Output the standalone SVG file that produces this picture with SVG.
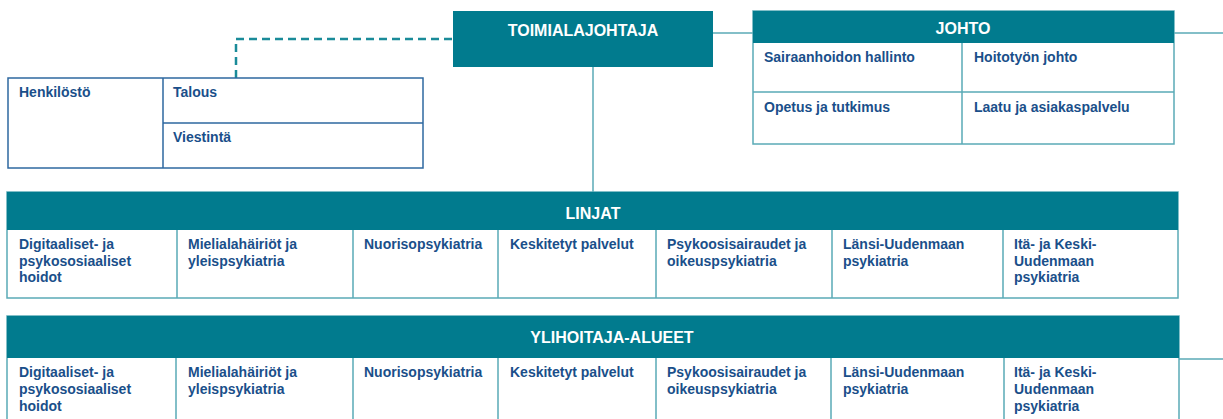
<svg xmlns="http://www.w3.org/2000/svg" width="1223" height="419" viewBox="0 0 1223 419">
<style>
.t{font-family:"Liberation Sans",Arial,sans-serif;font-weight:bold;font-size:14px;fill:#1a4f8a}
.h{font-family:"Liberation Sans",Arial,sans-serif;font-weight:bold;font-size:16px;fill:#ffffff;text-anchor:middle}
.hdr{fill:#017b8e}
.box{fill:#ffffff;stroke:#5aaab6;stroke-width:1.5}
.div{stroke:#5aaab6;stroke-width:1.5;fill:none}
.dbox{fill:#ffffff;stroke:#2e68a0;stroke-width:1.5}
.ddiv{stroke:#2e68a0;stroke-width:1.5;fill:none}
.con{stroke:#5aaab6;stroke-width:1.5;fill:none}
.dash{stroke:#1a8b99;stroke-width:2.5;fill:none;stroke-dasharray:8 5}
</style>
<g id="connectors">
<path class="dash" d="M236 78 V39 H453"/>
<path class="con" d="M713 33 H753"/>
<path class="con" d="M1174 33 H1223"/>
<path class="con" d="M593 67 V192"/>
<path class="con" d="M1179 359 H1223"/>
</g>
<g id="tuki">
<rect class="dbox" x="8" y="78" width="415" height="90"/>
<path class="ddiv" d="M163 78 V168 M163 123 H423"/>
<text class="t" x="19" y="97">Henkilöstö</text>
<text class="t" x="173" y="97">Talous</text>
<text class="t" x="173" y="142">Viestintä</text>
</g>
<g id="toimialajohtaja">
<rect class="hdr" x="453" y="11" width="260" height="56"/>
<text class="h" x="583" y="36">TOIMIALAJOHTAJA</text>
</g>
<g id="johto">
<rect class="box" x="753" y="11" width="421" height="133"/>
<rect class="hdr" x="753" y="11" width="421" height="32"/>
<path class="div" d="M962 43 V144 M753 92 H1174"/>
<text class="h" x="963" y="34">JOHTO</text>
<text class="t" x="764" y="62">Sairaanhoidon hallinto</text>
<text class="t" x="974" y="62">Hoitotyön johto</text>
<text class="t" x="764" y="112">Opetus ja tutkimus</text>
<text class="t" x="974" y="112">Laatu ja asiakaspalvelu</text>
</g>
<g id="linjat">
<rect class="box" x="7" y="192" width="1171" height="106"/>
<rect class="hdr" x="7" y="192" width="1171" height="38"/>
<path class="div" d="M177 230 V298 M353 230 V298 M498 230 V298 M656 230 V298 M832 230 V298 M1003 230 V298"/>
<text class="h" x="593" y="219">LINJAT</text>
<text class="t" x="19" y="249">Digitaaliset- ja</text>
<text class="t" x="19" y="265.5">psykososiaaliset</text>
<text class="t" x="19" y="282">hoidot</text>
<text class="t" x="188" y="249">Mielialahäiriöt ja</text>
<text class="t" x="188" y="265.5">yleispsykiatria</text>
<text class="t" x="364" y="249">Nuorisopsykiatria</text>
<text class="t" x="510" y="249">Keskitetyt palvelut</text>
<text class="t" x="667" y="249">Psykoosisairaudet ja</text>
<text class="t" x="667" y="265.5">oikeuspsykiatria</text>
<text class="t" x="843" y="249">Länsi-Uudenmaan</text>
<text class="t" x="843" y="265.5">psykiatria</text>
<text class="t" x="1014" y="249">Itä- ja Keski-</text>
<text class="t" x="1014" y="265.5">Uudenmaan</text>
<text class="t" x="1014" y="282">psykiatria</text>
</g>
<g id="ylihoitaja-alueet">
<rect class="box" x="7" y="316" width="1172" height="120"/>
<rect class="hdr" x="7" y="316" width="1172" height="42"/>
<path class="div" d="M176 358 V419 M353 358 V419 M498 358 V419 M656 358 V419 M831 358 V419 M1004 358 V419"/>
<text class="h" x="612" y="343">YLIHOITAJA-ALUEET</text>
<text class="t" x="19" y="377">Digitaaliset- ja</text>
<text class="t" x="19" y="394">psykososiaaliset</text>
<text class="t" x="19" y="411">hoidot</text>
<text class="t" x="188" y="377">Mielialahäiriöt ja</text>
<text class="t" x="188" y="394">yleispsykiatria</text>
<text class="t" x="364" y="377">Nuorisopsykiatria</text>
<text class="t" x="510" y="377">Keskitetyt palvelut</text>
<text class="t" x="667" y="377">Psykoosisairaudet ja</text>
<text class="t" x="667" y="394">oikeuspsykiatria</text>
<text class="t" x="843" y="377">Länsi-Uudenmaan</text>
<text class="t" x="843" y="394">psykiatria</text>
<text class="t" x="1014" y="377">Itä- ja Keski-</text>
<text class="t" x="1014" y="394">Uudenmaan</text>
<text class="t" x="1014" y="411">psykiatria</text>
</g>
</svg>
